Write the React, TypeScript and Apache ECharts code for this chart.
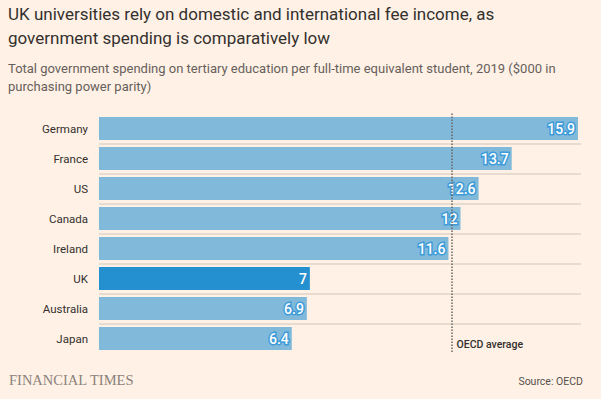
import React, { useEffect, useRef } from 'react';
import * as echarts from 'echarts';

const categories = ['Germany', 'France', 'US', 'Canada', 'Ireland', 'UK', 'Australia', 'Japan'];
const spending = [15.9, 13.7, 12.6, 12, 11.6, 7, 6.9, 6.4];
const highlighted = 'UK';
const oecdAverage = 11.7;
const oecdLabelRow = 'Japan';
const xMax = 16;

const titleText =
  'UK universities rely on domestic and international fee income, as\ngovernment spending is comparatively low';
const subtitleText =
  'Total government spending on tertiary education per full-time equivalent student, 2019 ($000 in\npurchasing power parity)';

export default function App() {
  const ref = useRef<HTMLDivElement>(null);
  useEffect(() => {
    const chart = echarts.init(ref.current!, null, { renderer: 'svg' });
    const font = 'Roboto, sans-serif';
    const barColor = '#80b9da';
    const ukColor = '#2590d0';
    const haloColor = '#3e9bd8';
    chart.setOption({
      animation: false,
      backgroundColor: '#fff1e5',
      textStyle: { fontFamily: font },
      title: [
        {
          text: titleText,
          left: 8,
          top: 2,
          padding: 0,
          textStyle: { fontFamily: font, fontSize: 17, fontWeight: 'normal', color: '#33302e', lineHeight: 24 },
        },
        {
          text: subtitleText,
          left: 8,
          top: 59,
          padding: 0,
          textStyle: { fontFamily: font, fontSize: 13, fontWeight: 'normal', color: '#66605c', lineHeight: 18 },
        },
        {
          text: 'FINANCIAL TIMES',
          left: 9,
          top: 372,
          padding: 0,
          textStyle: { fontFamily: '"Liberation Serif", serif', fontSize: 14.5, fontWeight: 'normal', color: '#8a827b' },
        },
        {
          text: 'Source: OECD',
          right: 18,
          top: 376,
          padding: 0,
          textStyle: { fontFamily: font, fontSize: 10.5, fontWeight: 'normal', color: '#55504c' },
        },
      ],
      grid: { left: 99, right: 20, top: 113.5, bottom: 45.5, containLabel: false },
      xAxis: { type: 'value', min: 0, max: xMax, show: false },
      yAxis: {
        type: 'category',
        data: categories,
        inverse: true,
        axisLine: { show: false },
        axisTick: { show: false },
        axisLabel: { margin: 11, fontSize: 11.5, color: '#33302e', fontFamily: font },
        splitLine: {
          show: true,
          showMinLine: false,
          showMaxLine: false,
          lineStyle: { color: '#e0d3c8', width: 1.5 },
        },
      },
      series: [
        {
          type: 'bar',
          z: 2,
          barWidth: 23,
          data: spending.map((v, i) => {
            const isUK = categories[i] === highlighted;
            return {
              value: v,
              itemStyle: { color: isUK ? ukColor : barColor },
              label: { textBorderColor: isUK ? ukColor : haloColor },
            };
          }),
          label: {
            show: true,
            position: 'insideRight',
            distance: 3,
            color: '#ffffff',
            fontSize: 14,
            fontWeight: 500,
            fontFamily: font,
            textBorderColor: haloColor,
            textBorderWidth: 3,
          },
        },
        {
          type: 'scatter',
          z: 10,
          data: [],
          silent: true,
          markLine: {
            silent: true,
            symbol: 'none',
            z: 10,
            label: { show: false },
            lineStyle: { type: 'dotted', color: '#6b6560', width: 1.5 },
            data: [{ xAxis: oecdAverage }],
          },
          markPoint: {
            silent: true,
            symbol: 'circle',
            symbolSize: 0,
            itemStyle: { color: 'transparent' },
            label: {
              show: true,
              position: 'right',
              distance: 5,
              offset: [0, 6],
              formatter: 'OECD average',
              color: '#33302e',
              fontSize: 10.5,
              fontWeight: 500,
              fontFamily: font,
            },
            data: [{ coord: [oecdAverage, oecdLabelRow] }],
          },
        },
      ],
    });
    return () => chart.dispose();
  }, []);
  return <div ref={ref} style={{ position: 'fixed', left: 0, top: 0, width: 601, height: 399 }} />;
}
